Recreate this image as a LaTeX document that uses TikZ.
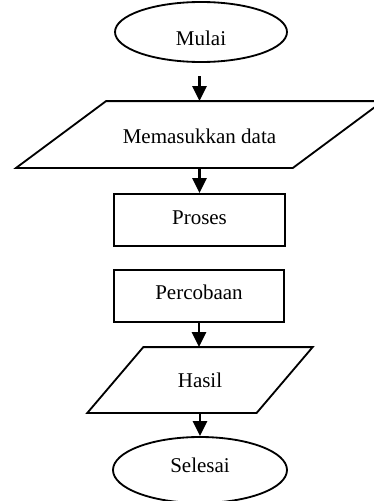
\documentclass[tikz,border=0pt]{standalone}
\usepackage{fontspec}
\setmainfont{Liberation Serif}
\usetikzlibrary{shapes.geometric,arrows.meta}

\tikzset{
    base/.style = {draw, line width=1.1pt, inner sep=0pt, font=\fontsize{12.6}{15}\selectfont},
    terminal/.style = {base, ellipse},
    process/.style = {base, rectangle, minimum height=31.2pt},
    io/.style = {base, draw=none, rectangle},
    flow/.style = {line width=1.5pt, -{Triangle[width=8.5pt,length=9pt]}}
}

% slanted outline round a data node: #1 node, #2 half of the slant
\newcommand{\ioshape}[2]{%
    \draw[line width=1.1pt] ([xshift=-#2]#1.south west) -- ([xshift=#2]#1.north west)
        -- ([xshift=#2]#1.north east) -- ([xshift=-#2]#1.south east) -- cycle;}

\begin{document}
\begin{tikzpicture}[x = .6pt, y = -.6pt]
    \useasboundingbox (0,0) rectangle (374,501);
    % start and end of the chart
    \node[terminal, minimum width=103.2pt, minimum height=36pt, text height=15.9pt] (mulai) at (201,32) {Mulai};
    \node[terminal, minimum width=104.4pt, minimum height=39.6pt, text depth=5.4pt] (selesai) at (200,470) {Selesai};
    % input / output
    \node[io, minimum width=165pt, minimum height=39pt, text height=11.1pt] (input) at (199.5,134.5) {Memasukkan data};
    \ioshape{input}{27pt}
    \node[io, minimum width=100.5pt, minimum height=38.4pt] (hasil) at (200,380) {Hasil};
    \ioshape{hasil}{16.8pt}
    % steps
    \node[process, minimum width=102.6pt, text depth=3pt] (proses) at (199.5,220) {Proses};
    \node[process, minimum width=102pt, text depth=4.2pt] (percobaan) at (199,296) {Percobaan};
    % arrows
    \draw[flow, shorten <=8pt] (mulai.south -| input.north) -- (input.north);
    \draw[flow] (input.south) -- (proses.north);
    \draw[flow] (percobaan.south) -- (hasil.north -| percobaan.south);
    \draw[flow] (hasil.south) -- (selesai.north -| hasil.south);
\end{tikzpicture}
\end{document}
